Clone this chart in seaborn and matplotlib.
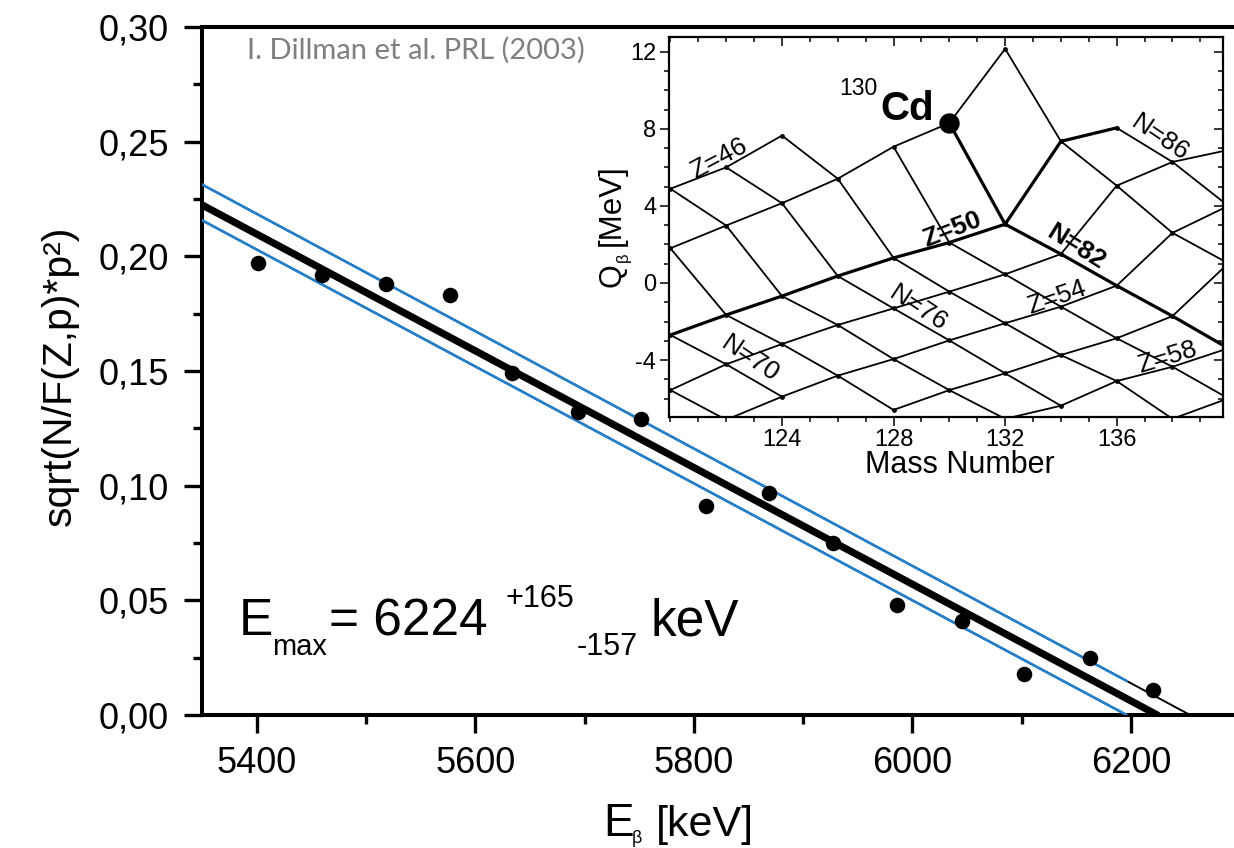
import numpy as np
import pandas as pd
import matplotlib
matplotlib.use("Agg")
import matplotlib.pyplot as plt
import seaborn as sns
from matplotlib.ticker import MultipleLocator

# ---------------- main panel data ----------------
e_beta = [5401, 5460, 5518, 5577, 5634, 5694, 5752, 5811, 5869, 5927,
          5986, 6045, 6102, 6162, 6220]
sqrt_nf = [0.197, 0.192, 0.188, 0.183, 0.149, 0.132, 0.129, 0.091, 0.097,
           0.075, 0.048, 0.041, 0.018, 0.025, 0.011]

# straight-line fits: zero crossing (keV) and slope (1/keV)
fit_names = ["fit", "upper", "lower"]
fit_e0 = [6224, 6254, 6196]
fit_slope = [2.545e-4, 2.559e-4, 2.550e-4]
band_end = 6196          # end of the blue part of the band lines

x_ticks = [5400, 5600, 5800, 6000, 6200]
y_ticks = [0.00, 0.05, 0.10, 0.15, 0.20, 0.25, 0.30]
y_tick_labels = ["0,00", "0,05", "0,10", "0,15", "0,20", "0,25", "0,30"]

# ---------------- inset data (Q_beta in MeV) ----------------
mass_numbers = [120, 122, 124, 126, 128, 130, 132, 134, 136, 138, 140]
nan = np.nan
q_pd = [4.89, 6.00, 7.65, nan, nan, nan, nan, nan, nan, nan, nan]
q_cd = [1.80, 2.98, 4.14, 5.41, 7.07, 8.30, 12.15, nan, nan, nan, nan]
q_sn = [-2.70, -1.66, -0.68, 0.36, 1.30, 2.10, 3.05, 7.35, 8.05, nan, nan]
q_te = [-5.56, -4.22, -3.17, -2.18, -1.32, -0.45, 0.45, 1.50, 5.05, 6.28, 6.90]
q_xe = [nan, -7.10, -5.90, -4.81, -3.95, -2.98, -2.09, -1.23, -0.14, 2.60, 4.00]
q_ba = [nan, nan, nan, nan, -6.59, -5.56, -4.69, -3.74, -2.87, -1.72, 1.02]
q_ce = [nan, nan, nan, nan, nan, nan, -7.05, -6.37, -5.09, -4.35, -3.39]
q_nd = [nan, nan, nan, nan, nan, nan, nan, nan, nan, -7.05, -5.99]
z_values = [46, 48, 50, 52, 54, 56, 58, 60]
q_by_z = [q_pd, q_cd, q_sn, q_te, q_xe, q_ba, q_ce, q_nd]
magic_z, magic_n = 50, 82
highlight_z, highlight_a = 48, 130

chain_labels = ["Z=46", "Z=50", "Z=54", "Z=58", "N=70", "N=76", "N=82", "N=86"]
label_a = [121.75, 130.1, 133.85, 137.8, 122.85, 128.9, 134.55, 137.55]
label_q = [6.45, 2.75, -0.75, -3.85, -3.95, -1.3, 1.85, 7.5]
label_rot = [28, 21, 19, 17, -34, -33, -32, -34]

inset_x_ticks = [124, 128, 132, 136]
inset_y_ticks = [-4, 0, 4, 8, 12]

# ---------------- figure ----------------
sns.set_theme(style="ticks")
plt.rcParams["font.family"] = ["Liberation Sans", "DejaVu Sans"]
plt.rcParams["axes.unicode_minus"] = False
for key in ["text.color", "axes.labelcolor", "xtick.color", "ytick.color",
            "axes.edgecolor"]:
    plt.rcParams[key] = "black"

W, H = 1234, 848
fig = plt.figure(figsize=(W / 100, H / 100), dpi=100)
fig.patch.set_facecolor("white")


def fx(px):
    return px / W


def fy(py):
    return 1 - py / H


ax = fig.add_axes([fx(202), fy(715), (1240.4 - 202) / W, (715 - 27) / H])
ax.set_facecolor("white")
ax.set_xlim(5350, 6300)
ax.set_ylim(0, 0.30)

blue = "#2580cc"
for name, e0, k in zip(fit_names, fit_e0, fit_slope):
    e_full = np.array([5300.0, e0])
    df_full = pd.DataFrame({"E": e_full, "v": k * (e0 - e_full)})
    if name == "fit":
        sns.lineplot(data=df_full, x="E", y="v", ax=ax, color="black", lw=5.2,
                     estimator=None, sort=False, zorder=4)
    else:
        sns.lineplot(data=df_full, x="E", y="v", ax=ax, color="black", lw=1.4,
                     estimator=None, sort=False, zorder=2)
        e_band = np.array([5300.0, band_end])
        df_band = pd.DataFrame({"E": e_band, "v": k * (e0 - e_band)})
        sns.lineplot(data=df_band, x="E", y="v", ax=ax, color=blue, lw=1.9,
                     estimator=None, sort=False, zorder=3)

sns.scatterplot(x=e_beta, y=sqrt_nf, ax=ax, s=125, color="black",
                linewidth=0, zorder=6)

ax.set_xticks(x_ticks, labels=[str(v) for v in x_ticks])
ax.xaxis.set_minor_locator(MultipleLocator(100))
ax.set_yticks(y_ticks, labels=y_tick_labels)
ax.yaxis.set_minor_locator(MultipleLocator(0.025))
ax.tick_params(which="major", direction="out", length=13, width=2.4,
               labelsize=26, color="black", labelcolor="black")
ax.tick_params(which="minor", direction="out", length=6.5, width=2.4)
ax.tick_params(axis="x", which="major", pad=9)
ax.tick_params(axis="y", which="major", pad=11)
for side in ["left", "bottom", "top"]:
    ax.spines[side].set_linewidth(2.9)
    ax.spines[side].set_color("black")
ax.spines["right"].set_visible(False)
ax.set_xlabel("")
ax.set_ylabel("sqrt(N/F(Z,p)*p²)", fontsize=29.5, color="black")
ax.yaxis.set_label_coords((79 - 202) / 1038.4, (715 - 376) / 688)

# x label pieces
fig.text(fx(603), fy(836), "E", fontsize=33, va="baseline", ha="left")
fig.text(fx(632), fy(843), "β", fontsize=13, va="baseline", ha="left")
fig.text(fx(656), fy(836), "[keV]", fontsize=31, va="baseline", ha="left")

# E_max annotation
fig.text(fx(239), fy(635), "E", fontsize=37, va="baseline")
fig.text(fx(272), fy(655), "max", fontsize=21, va="baseline")
fig.text(fx(329), fy(635), "= 6224", fontsize=37, va="baseline")
fig.text(fx(505), fy(607), "+165", fontsize=22, va="baseline")
fig.text(fx(577), fy(655), "-157", fontsize=22, va="baseline")
fig.text(fx(651), fy(635), "keV", fontsize=37, va="baseline")

fig.text(fx(247), fy(50), "I. Dillman et al. PRL (2003)", fontsize=21,
         va="center", ha="left", color="#7f7f7f",
         family=["Lato", "DejaVu Sans"])

# ---------------- inset ----------------
rows = []
for z, qs in zip(z_values, q_by_z):
    for a, q in zip(mass_numbers, qs):
        if not np.isnan(q):
            rows.append((z, a, a - z, q))
nodes = pd.DataFrame(rows, columns=["Z", "A", "N", "Q"])

chains = []
for z, g in nodes.groupby("Z"):
    if len(g) > 1:
        chains.append(g.sort_values("A").assign(chain=f"Z{z}", thick=(z == magic_z)))
for n, g in nodes.groupby("N"):
    if len(g) > 1:
        chains.append(g.sort_values("A").assign(chain=f"N{n}", thick=(n == magic_n)))
chain_df = pd.concat(chains, ignore_index=True)

ax_in = fig.add_axes([fx(668.7), fy(416.7), (1222.7 - 668.7) / W,
                      (416.7 - 36.7) / H])
ax_in.set_facecolor("white")
ax_in.set_zorder(5)
ax_in.set_xlim(119.94, 139.8)
ax_in.set_ylim(-6.94, 12.78)

sns.lineplot(data=chain_df[~chain_df["thick"]], x="A", y="Q", units="chain",
             estimator=None, sort=False, color="black", lw=1.3, ax=ax_in)
sns.lineplot(data=chain_df[chain_df["thick"]], x="A", y="Q", units="chain",
             estimator=None, sort=False, color="black", lw=2.3, ax=ax_in)
sns.scatterplot(data=nodes, x="A", y="Q", s=12, color="black", linewidth=0,
                ax=ax_in, zorder=4)
hl = nodes[(nodes["Z"] == highlight_z) & (nodes["A"] == highlight_a)]
sns.scatterplot(data=hl, x="A", y="Q", s=215, color="black", linewidth=0,
                ax=ax_in, zorder=5)

for lab, a, q, rot in zip(chain_labels, label_a, label_q, label_rot):
    bold = lab in (f"Z={magic_z}", f"N={magic_n}")
    ax_in.text(a, q, lab, rotation=rot, rotation_mode="anchor", ha="center",
               va="center", fontsize=19, fontweight="bold" if bold else "normal",
               color="black", zorder=6)

ax_in.set_xticks(inset_x_ticks, labels=[str(v) for v in inset_x_ticks])
ax_in.xaxis.set_minor_locator(MultipleLocator(1))
ax_in.set_yticks(inset_y_ticks, labels=[str(v) for v in inset_y_ticks])
ax_in.yaxis.set_minor_locator(MultipleLocator(1))
ax_in.tick_params(which="major", direction="out", length=6.5, width=1.1,
                  labelsize=17, pad=2.5, color="black", labelcolor="black")
ax_in.tick_params(which="minor", direction="out", length=3.5, width=1.1)
for s in ax_in.spines.values():
    s.set_linewidth(1.6)
    s.set_color("black")

sec_x = ax_in.secondary_xaxis("top")
sec_x.set_xticks(inset_x_ticks, labels=[])
sec_x.xaxis.set_minor_locator(MultipleLocator(1))
sec_x.tick_params(which="major", direction="in", length=6.5, width=1.1)
sec_x.tick_params(which="minor", direction="in", length=3.5, width=1.1)
sec_y = ax_in.secondary_yaxis("right")
sec_y.set_yticks(inset_y_ticks, labels=[])
sec_y.yaxis.set_minor_locator(MultipleLocator(1))
sec_y.tick_params(which="major", direction="in", length=6.5, width=1.1)
sec_y.tick_params(which="minor", direction="in", length=3.5, width=1.1)

ax_in.set_xlabel("Mass Number", fontsize=22, color="black")
ax_in.xaxis.set_label_coords((960 - 668.7) / 554, (416.7 - 450) / 380)
ax_in.set_ylabel("")

# Q_beta [MeV] label pieces (rotated)
fig.text(fx(620), fy(287), "Q", fontsize=22, rotation=90,
         rotation_mode="anchor", ha="left", va="baseline", zorder=10)
fig.text(fx(628), fy(262), "β", fontsize=12, rotation=90,
         rotation_mode="anchor", ha="left", va="baseline", zorder=10)
fig.text(fx(620), fy(246), "[MeV]", fontsize=22.5, rotation=90,
         rotation_mode="anchor", ha="left", va="baseline", zorder=10)

# 130Cd label
fig.text(fx(839), fy(95), "130", fontsize=16.5, va="baseline", ha="left",
         zorder=10)
fig.text(fx(880), fy(120), "Cd", fontsize=29, fontweight="bold",
         va="baseline", ha="left", zorder=10)

fig.savefig("out.png", dpi=100, facecolor="white")
